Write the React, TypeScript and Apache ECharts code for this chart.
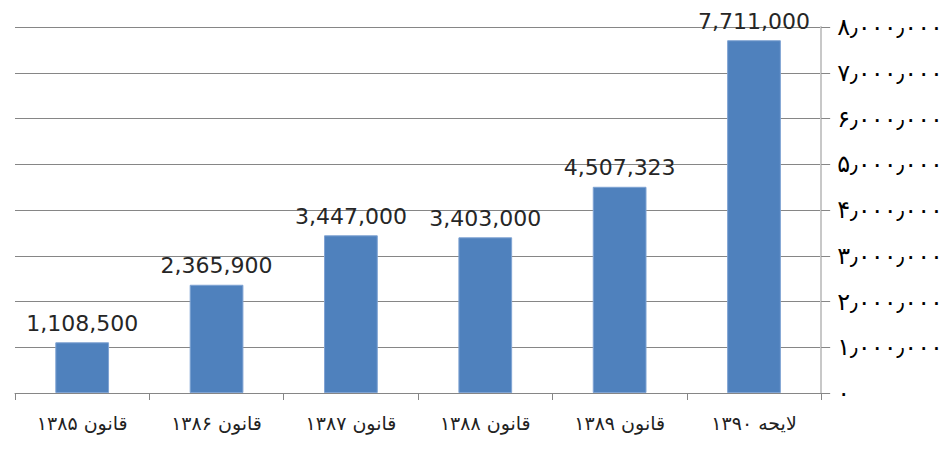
import React, { useEffect, useRef } from "react";
import * as echarts from "echarts";

const categories = ["قانون ۱۳۸۵", "قانون ۱۳۸۶", "قانون ۱۳۸۷", "قانون ۱۳۸۸", "قانون ۱۳۸۹", "لایحه ۱۳۹۰"];
const values = [1108500, 2365900, 3447000, 3403000, 4507323, 7711000];
const yTicks = [0, 1000000, 2000000, 3000000, 4000000, 5000000, 6000000, 7000000, 8000000];

const faDigits = "۰۱۲۳۴۵۶۷۸۹";
const toPersian = (v: number) =>
  v
    .toLocaleString("en-US")
    .replace(/\d/g, (d) => faDigits[Number(d)])
    .replace(/,/g, "٫");

export default function App() {
  const ref = useRef<HTMLDivElement>(null);
  useEffect(() => {
    const chart = echarts.init(ref.current!, undefined, { renderer: "svg" });
    chart.setOption({
      animation: false,
      backgroundColor: "#ffffff",
      grid: { left: 15, right: 124, top: 27, bottom: 60 },
      xAxis: {
        type: "category",
        data: categories,
        boundaryGap: true,
        axisLine: { show: true, lineStyle: { color: "#868686", width: 1 } },
        axisTick: { show: true, alignWithLabel: false, length: 7, lineStyle: { color: "#868686" } },
        axisLabel: {
          fontFamily: "DejaVu Sans",
          fontSize: 19,
          color: "#222222",
          margin: 20,
          interval: 0,
        },
      },
      yAxis: {
        type: "value",
        position: "right",
        min: yTicks[0],
        max: yTicks[yTicks.length - 1],
        interval: 1000000,
        axisLine: { show: true, lineStyle: { color: "#c8c8c8", width: 2 } },
        axisTick: { show: true, length: 9, lineStyle: { color: "#868686" } },
        splitLine: { show: true, lineStyle: { color: "#868686", width: 1 } },
        axisLabel: {
          fontFamily: "DejaVu Sans",
          fontSize: 24,
          color: "#000000",
          margin: 16,
          align: "left",
          formatter: (v: number) => toPersian(v),
        },
      },
      series: [
        {
          type: "bar",
          data: values,
          barWidth: "40%",
          itemStyle: { color: "#4F81BD", borderColor: "#7fa3d3", borderWidth: 1 },
          label: {
            show: true,
            position: "top",
            distance: 8,
            fontFamily: "DejaVu Sans",
            fontSize: 22,
            color: "#262626",
            formatter: (p: any) => Number(p.value).toLocaleString("en-US"),
          },
        },
      ],
    });
    return () => chart.dispose();
  }, []);
  return (
    <div
      ref={ref}
      style={{ position: "absolute", left: 0, top: 0, width: 946, height: 453 }}
    />
  );
}
